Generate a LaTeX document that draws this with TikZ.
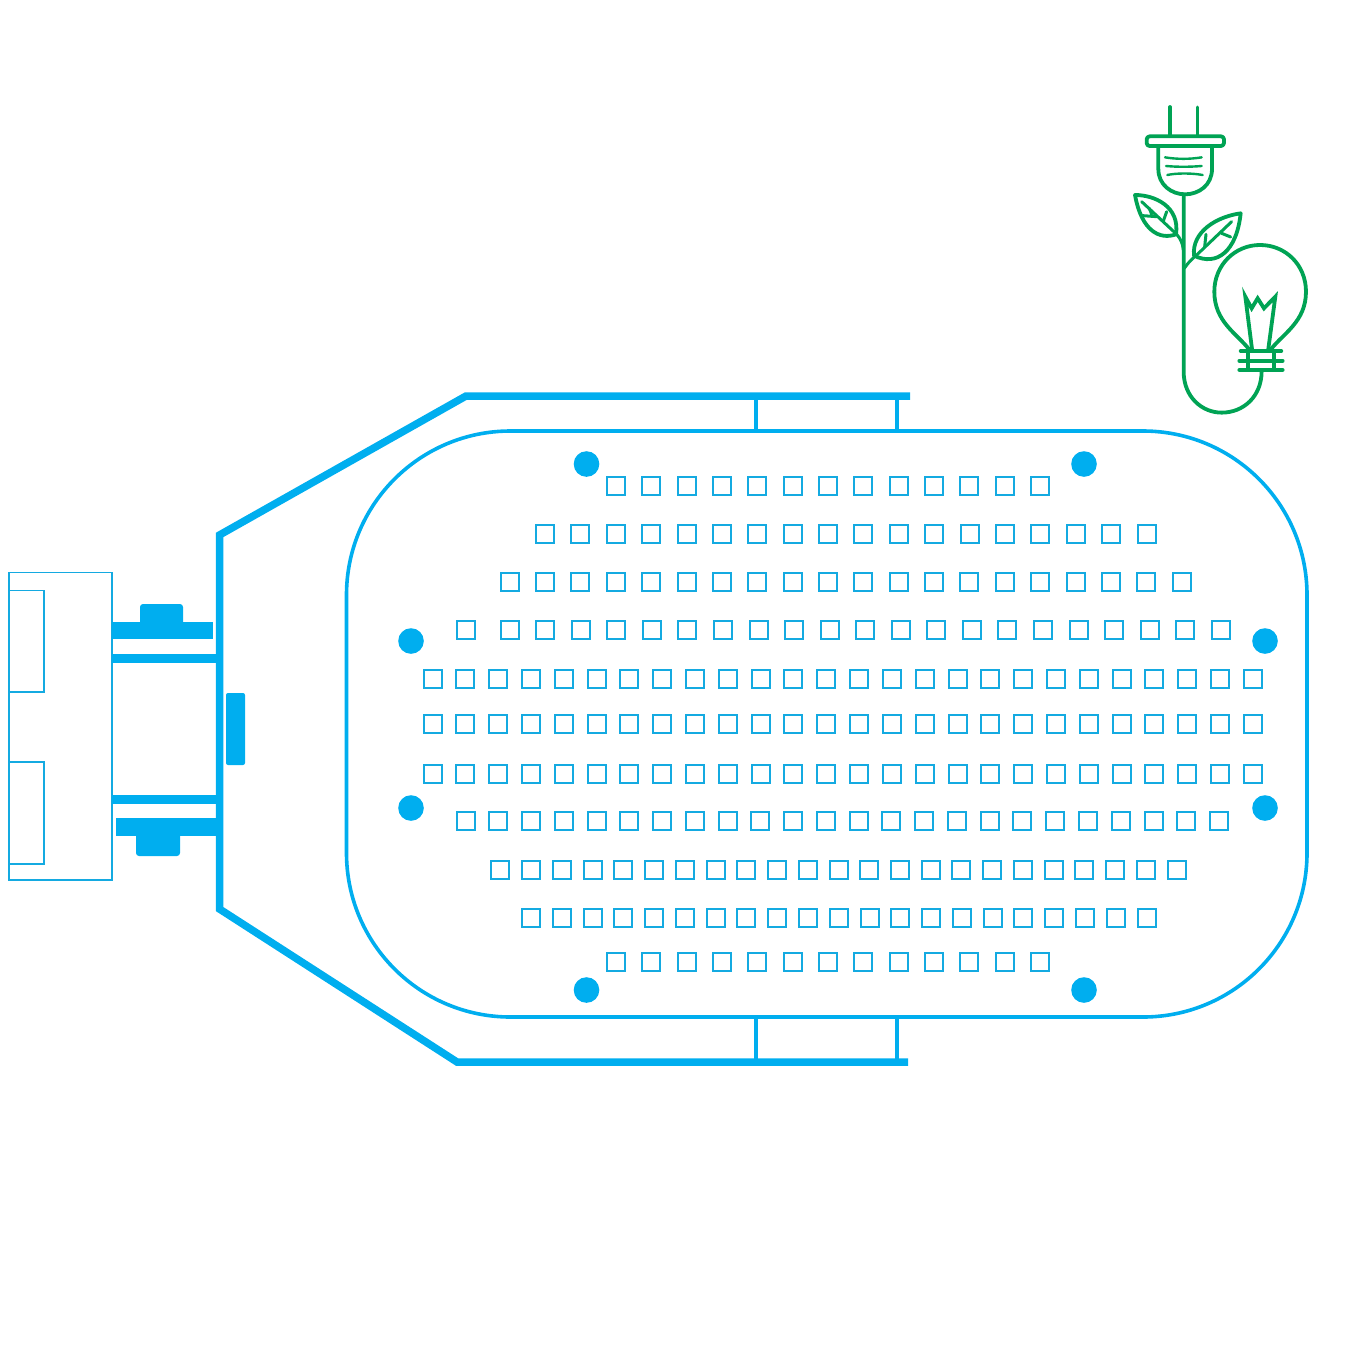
\documentclass[tikz,border=0pt]{standalone}
\usepackage{tikz}
\definecolor{lampblue}{RGB}{0,174,239}
\definecolor{cellblue}{RGB}{20,170,225}
\definecolor{leafgreen}{RGB}{0,163,84}
\tikzset{
  housing/.style={draw=lampblue,line width=7.5pt,line join=miter,line cap=butt},
  lampedge/.style={draw=lampblue,line width=3.6pt},
  thinbox/.style={draw=cellblue,line width=1.6pt,line cap=butt,line join=miter},
  ledcell/.style={draw=cellblue,line width=2pt,line cap=butt,line join=miter},
  solidpart/.style={fill=lampblue,draw=none},
  iconline/.style={draw=leafgreen,line width=3.8pt}
}
\begin{document}
\begin{tikzpicture}[line cap=round,line join=round,x=1pt,y=-1pt]
\useasboundingbox (0,0) rectangle (1355,1355);
% lamp head
\draw [lampedge,rounded corners=164pt] (346.5,431) rectangle (1307,1017);
\draw [housing] (910,396) -- (466,396) -- (219.5,535) -- (219.5,909) -- (457,1062) -- (908,1062);
\draw [draw=lampblue,line width=4pt,line cap=butt] (756,396) -- (756,431);
\draw [draw=lampblue,line width=4pt,line cap=butt] (897,396) -- (897,431);
\draw [draw=lampblue,line width=4pt,line cap=butt] (756,1017) -- (756,1062);
\draw [draw=lampblue,line width=4pt,line cap=butt] (897,1017) -- (897,1062);
% bracket
\draw [thinbox] (9,572.5) rectangle (112,880);
\draw [thinbox] (9,590.5) rectangle (44,692);
\draw [thinbox] (9,762) rectangle (44,864);
\fill [solidpart] (112,622) rectangle (213,639);
\fill [solidpart] (112,654) rectangle (217,663);
\fill [solidpart] (112,795) rectangle (217,804);
\fill [solidpart] (116,818) rectangle (217,836);
\fill [solidpart,rounded corners=3pt] (140,625) -- (140,604) -- (183,604) -- (183,625) -- cycle;
\fill [solidpart,rounded corners=3pt] (136,833) -- (136,856) -- (180,856) -- (180,833) -- cycle;
\fill [solidpart,rounded corners=2pt] (226,693) rectangle (245,765);
% screws
\foreach \dotx/\doty in {586.5/464,1084/464,411/641,1265/641,411/808,1265/808,586.5/990,1084/990}
  \fill [lampblue] (\dotx,\doty) circle (12.8);
% led rows: y, first x, last x, last index
\foreach \rowy/\firstx/\lastx/\lastn in {486/616/1040/12,534/545/1146.5/17,581.5/509.7/1181.7/19,630/509.7/1220.7/20,
    679/432.7/1252.7/25,724/432.7/1252.7/25,774/432.7/1252.7/25,821/465.7/1219/23,
    870/500.3/1176.7/22,918/531/1146.5/20,962/616/1040/12}
  \foreach \i in {0,...,\lastn} {
    \pgfmathsetmacro{\cellx}{\firstx+(\i/\lastn)*(\lastx-\firstx)}
    \draw [ledcell] (\cellx-9,\rowy-9) rectangle (\cellx+9,\rowy+9);
  }
\draw [ledcell] (456.7,621) rectangle (474.7,639);
% plug, leaves and bulb
\begin{scope}[shift={(1120,95)},x=0.3333pt,y=-0.3333pt]
\draw [iconline] (150,36) -- (150,122);
\draw [iconline,line width=3pt] (231,36) -- (231,122);
\draw [iconline,rounded corners=3pt] (80,124) rectangle (312,153);
\draw [iconline] (115,155) -- (115,222) .. controls (115,270) and (155,298) .. (195,298) .. controls (237,298) and (276,270) .. (276,222) -- (276,155);
\draw [iconline,line width=2.4pt] (135,187) .. controls (170,193) and (210,193) .. (245,187);
\draw [iconline,line width=2.4pt] (138,213) .. controls (170,216) and (210,216) .. (245,213);
\draw [iconline,line width=2.4pt] (142,240) .. controls (170,234) and (215,234) .. (248,240);
\draw [iconline] (191,298) -- (191,830) .. controls (191,905) and (245,953) .. (305,953) .. controls (370,953) and (425,905) .. (425,828);
% left leaf
\draw [iconline] (45,300) .. controls (105,300) and (180,335) .. (168,418) .. controls (120,435) and (65,410) .. (45,300) -- cycle;
\draw [iconline,line width=3pt] (65,320) -- (170,418) .. controls (182,432) and (188,445) .. (190,465);
\draw [iconline,line width=3pt] (68,362) -- (110,365);
\draw [iconline,line width=3pt] (88,340) -- (95,358);
\draw [iconline,line width=3pt] (140,350) -- (130,378);
% right leaf
\draw [iconline] (362,355) .. controls (290,365) and (215,410) .. (222,482) .. controls (290,515) and (350,470) .. (362,355) -- cycle;
\draw [iconline,line width=3pt] (335,380) -- (230,480) .. controls (215,492) and (203,505) .. (193,520);
\draw [iconline,line width=3pt] (258,418) -- (254,455);
\draw [iconline,line width=3pt] (305,415) -- (332,426);
% bulb
\draw [iconline] (388,764) .. controls (350,715) and (283,680) .. (283,590) .. controls (283,510) and (345,450) .. (420,450) .. controls (497,450) and (558,510) .. (558,590) .. controls (558,680) and (490,715) .. (452,764);
\draw [iconline,line join=miter] (396,762) -- (376,605) -- (395,640) -- (413,610) -- (432,640) -- (466,605) -- (445,762);
\draw [iconline] (362,768) -- (484,768);
\draw [iconline] (358,797) -- (488,797);
\draw [iconline] (358,825) -- (488,825);
\draw [iconline] (385,768) -- (385,825);
\draw [iconline] (462,768) -- (462,825);
\end{scope}
\end{tikzpicture}
\end{document}
